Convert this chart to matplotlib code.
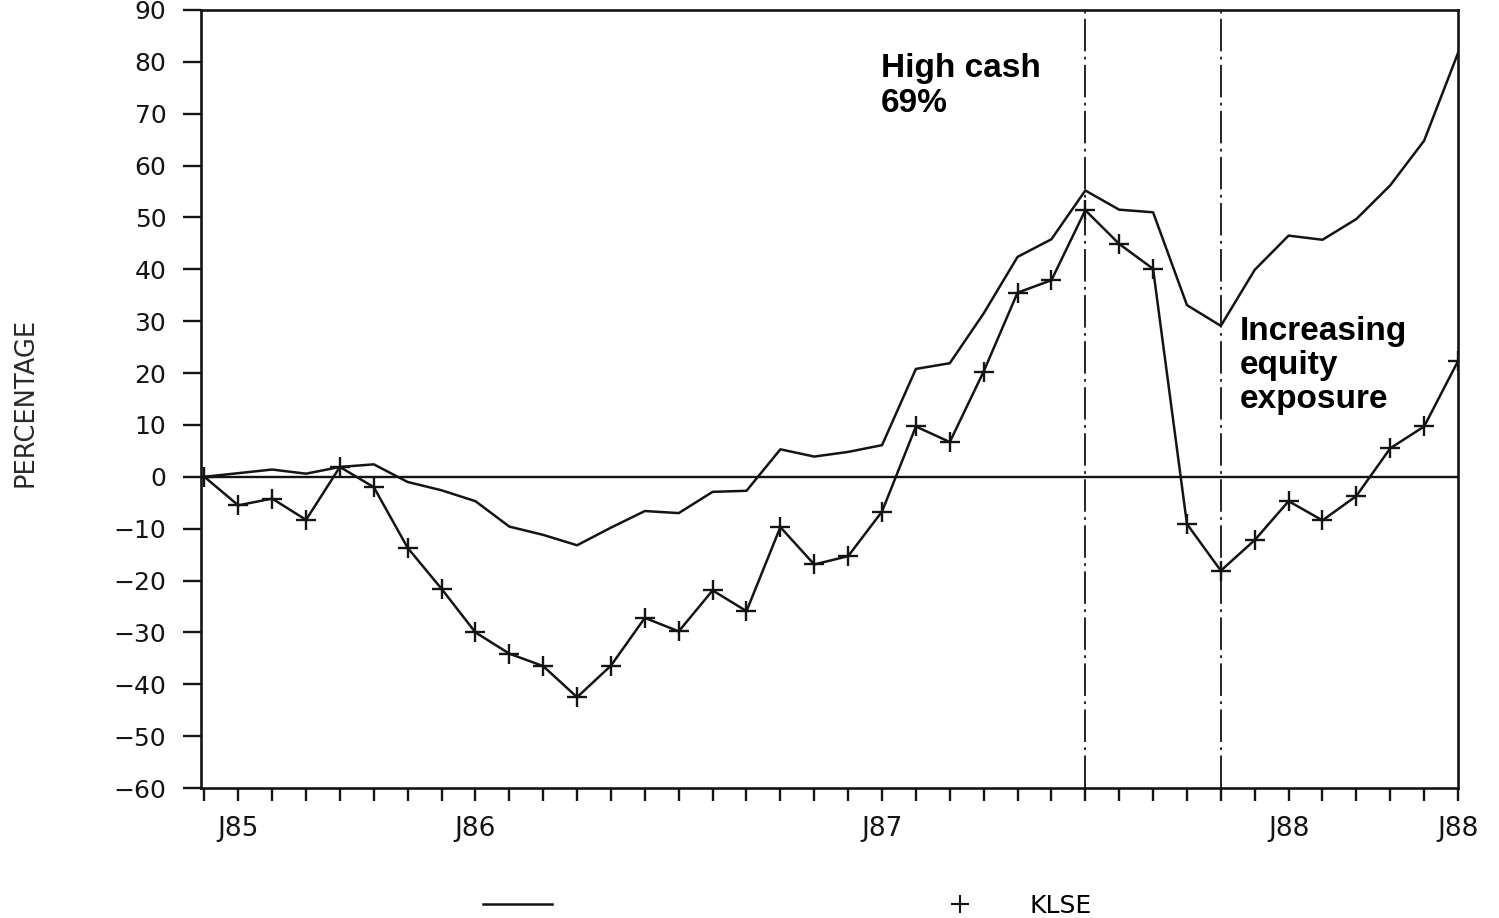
import matplotlib.pyplot as plt
from matplotlib.lines import Line2D

# monthly points, index 0 = start of the series
months = list(range(38))

# unlabelled solid line (portfolio)
fund = [0.0, 0.7, 1.4, 0.6, 1.9, 2.4, -1.0, -2.6, -4.7, -9.6,
        -11.2, -13.2, -9.8, -6.6, -7.0, -2.9, -2.7, 5.3, 3.9, 4.8,
        6.1, 20.8, 21.9, 31.5, 42.4, 45.8, 55.2, 51.5, 51.0, 33.1,
        29.1, 39.9, 46.5, 45.7, 49.7, 56.2, 64.8, 81.7]

klse = [0.0, -5.5, -4.2, -8.3, 1.9, -2.0, -13.7, -21.6, -30.0, -34.1,
        -36.5, -42.5, -36.4, -27.2, -29.8, -21.9, -25.9, -9.7, -16.9, -15.3,
        -6.7, 9.7, 6.7, 20.3, 35.5, 37.9, 51.4, 44.9, 40.1, -9.1,
        -18.1, -12.2, -4.7, -8.4, -3.7, 5.5, 9.7, 22.3]

tick_pos = [1, 8, 20, 32, 37]
tick_text = ['J85', 'J86', 'J87', 'J88', 'J88']
yticks = list(range(-60, 91, 10))
marker_lines = [26, 30]

INK = '#141414'

plt.rcParams['font.family'] = ['DejaVu Sans']

fig = plt.figure(figsize=(14.99, 9.18), dpi=100)
ax = fig.add_axes([201 / 1499, 1 - 788 / 918, (1458 - 201) / 1499, (788 - 10) / 918])

ax.plot(months, fund, color=INK, lw=1.8)
ax.plot(months, klse, color=INK, lw=1.8, marker='+', markersize=15, markeredgewidth=1.7)

ax.axhline(0, color=INK, lw=1.7)
for m in marker_lines:
    ax.axvline(m, color=INK, lw=1.3, linestyle=(0, (18, 3, 1.5, 3)))

ax.set_xlim(-0.1, 37)
ax.set_ylim(-60, 90)
ax.set_yticks(yticks)
ax.set_yticklabels([f'{v}'.replace('-', '\u2212') for v in yticks], fontsize=18)
ax.set_xticks(months)
ax.set_xticklabels([tick_text[tick_pos.index(m)] if m in tick_pos else '' for m in months],
                   fontsize=19)
ax.tick_params(axis='y', direction='out', length=13, width=1.7, pad=12, colors=INK)
ax.tick_params(axis='x', direction='out', length=9, width=1.7, pad=11, colors=INK)
for s in ax.spines.values():
    s.set_linewidth(1.9)
    s.set_color(INK)

ax.set_ylabel('PERCENTAGE', fontsize=18.5, color='#2a2a2a')
ax.yaxis.set_label_coords(-0.1295, 0.495)

ax.text(19.97, 75.3, 'High cash\n69%', fontsize=24, fontweight='bold',
        family='Liberation Sans', ha='left', va='center', linespacing=1.15, color='black')
ax.text(30.57, 21.4, 'Increasing\nequity\nexposure', fontsize=24, fontweight='bold',
        family='Liberation Sans', ha='left', va='center', linespacing=1.12, color='black')

handles = [Line2D([], [], color=INK, lw=1.8),
           Line2D([], [], color=INK, ls='none', marker='+', markersize=13, markeredgewidth=1.5)]
fig.legend(handles, ['', 'KLSE'], loc='center left', bbox_to_anchor=(483 / 1499, 1 - 906 / 918),
           ncol=2, frameon=False, fontsize=18, handlelength=2.76, handletextpad=1.42,
           columnspacing=13.5, borderpad=0, borderaxespad=0)

fig.savefig('out.png', dpi=100)
